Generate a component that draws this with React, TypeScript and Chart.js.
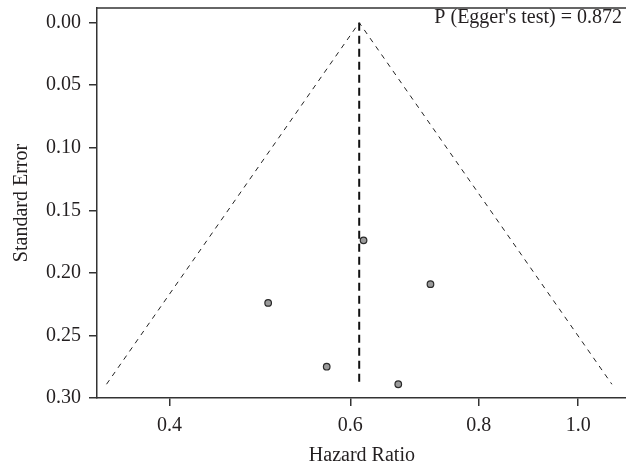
import React, { useEffect, useRef } from "react";
import { Chart, registerables } from "chart.js";

Chart.register(...registerables);

// ---- data ----
const hazardRatios = [0.618, 0.718, 0.499, 0.569, 0.668];
const standardErrors = [0.174, 0.209, 0.224, 0.275, 0.289];
const pooledHR = 0.612;
const funnelMaxSE = 0.289;
const xTickValues = [0.4, 0.6, 0.8, 1.0];
const yTickValues = [0, 0.05, 0.1, 0.15, 0.2, 0.25, 0.3];
const eggerLabel = "P (Egger's test) = 0.872";
const xTitle = "Hazard Ratio";
const yTitle = "Standard Error";

const FONT = "'Liberation Serif', 'Times New Roman', serif";
const INK = "#231f20";
const AXIS = "#333333";
const FS = 20;
const CANVAS_W = 632;

export default function App() {
  const ref = useRef<HTMLCanvasElement | null>(null);

  useEffect(() => {
    document.body.style.margin = "0";
    const canvas = ref.current;
    if (!canvas) return;

    const points = hazardRatios.map((hr, i) => ({ x: hr, y: standardErrors[i] }));
    const leftX = pooledHR * Math.exp(-1.96 * funnelMaxSE);
    const rightX = pooledHR * Math.exp(1.96 * funnelMaxSE);
    const funnel = [
      { x: leftX, y: funnelMaxSE },
      { x: pooledHR, y: 0 },
      { x: rightX, y: funnelMaxSE },
    ];
    const pooledLine = [
      { x: pooledHR, y: 0 },
      { x: pooledHR, y: funnelMaxSE },
    ];

    const framePlugin = {
      id: "frameAndText",
      afterDraw(chart: any) {
        const { ctx, chartArea } = chart;
        ctx.save();
        ctx.strokeStyle = AXIS;
        ctx.lineWidth = 1.5;
        ctx.beginPath();
        ctx.moveTo(chartArea.left, chartArea.top);
        ctx.lineTo(chartArea.right, chartArea.top);
        ctx.stroke();
        ctx.fillStyle = INK;
        ctx.font = `${FS}px ${FONT}`;
        ctx.textAlign = "right";
        ctx.textBaseline = "alphabetic";
        ctx.fillText(eggerLabel, 622, 23);
        ctx.restore();
      },
    };

    const zeroPad = (s: any) => {
      s.paddingTop = 0;
      s.paddingBottom = 0;
      s.paddingLeft = 0;
      s.paddingRight = 0;
    };

    const chart = new Chart(canvas, {
      type: "scatter",
      data: {
        datasets: [
          {
            data: funnel,
            showLine: true,
            pointRadius: 0,
            borderColor: "#222",
            borderWidth: 1,
            borderDash: [5, 5],
            fill: false,
          },
          {
            data: pooledLine,
            showLine: true,
            pointRadius: 0,
            borderColor: "#111",
            borderWidth: 2,
            borderDash: [8, 5],
            fill: false,
          },
          {
            data: points,
            showLine: false,
            pointRadius: 3.3,
            pointBackgroundColor: "#9a9a9a",
            pointBorderColor: "#2a2a2a",
            pointBorderWidth: 1.2,
          },
        ],
      },
      options: {
        animation: false,
        responsive: false,
        devicePixelRatio: 1,
        layout: { padding: { top: 8, left: 0, right: 0, bottom: 0 } },
        plugins: {
          legend: { display: false },
          tooltip: { enabled: false },
        },
        scales: {
          x: {
            type: "logarithmic",
            min: 0.3416,
            max: 1.115,
            afterBuildTicks: (s: any) => {
              s.ticks = xTickValues.map((v) => ({ value: v }));
            },
            afterFit: (s: any) => {
              s.height = 68;
              zeroPad(s);
            },
            grid: {
              drawOnChartArea: false,
              drawTicks: true,
              tickLength: 8,
              color: AXIS,
              lineWidth: 1.5,
            },
            border: { display: true, color: AXIS, width: 1.5 },
            ticks: {
              callback: (v: any) => Number(v).toFixed(1),
              font: { family: FONT, size: FS },
              color: INK,
              padding: 8,
              maxRotation: 0,
              autoSkip: false,
            },
            title: {
              display: true,
              text: xTitle,
              font: { family: FONT, size: FS },
              color: INK,
              padding: { top: 0, bottom: -2 },
            },
          },
          y: {
            type: "linear",
            reverse: true,
            min: -0.0117,
            max: 0.3,
            afterBuildTicks: (s: any) => {
              s.ticks = yTickValues.map((v) => ({ value: v }));
            },
            afterFit: (s: any) => {
              s.width = 97;
              zeroPad(s);
            },
            grid: {
              drawOnChartArea: false,
              drawTicks: true,
              tickLength: 8,
              color: AXIS,
              lineWidth: 1.5,
            },
            border: { display: true, color: AXIS, width: 1.5 },
            ticks: {
              callback: (v: any) => Number(v).toFixed(2),
              font: { family: FONT, size: FS },
              color: INK,
              padding: 8,
              autoSkip: false,
            },
            title: {
              display: true,
              text: yTitle,
              font: { family: FONT, size: FS },
              color: INK,
              padding: { top: 10, bottom: 0 },
            },
          },
        },
      },
      plugins: [framePlugin],
    } as any);

    return () => chart.destroy();
  }, []);

  return (
    <div style={{ width: 626, height: 466, overflow: "hidden" }}>
      <canvas ref={ref} width={CANVAS_W} height={466} style={{ display: "block" }} />
    </div>
  );
}
